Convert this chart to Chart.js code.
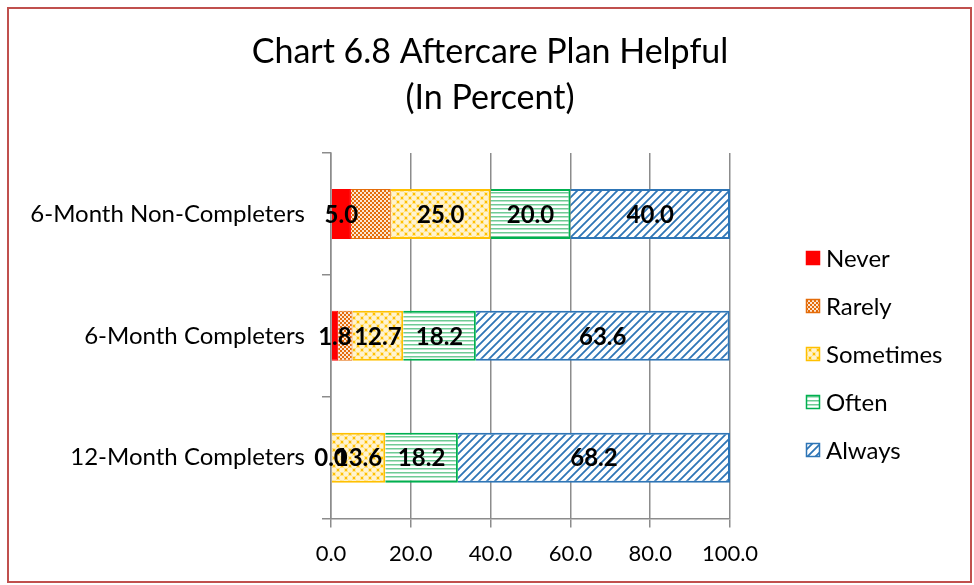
<!DOCTYPE html>
<html>
<head>
<meta charset="utf-8">
<script src="https://cdn.jsdelivr.net/npm/chart.js@4.4.1/dist/chart.umd.min.js"></script>
<style>
  html, body { margin: 0; padding: 0; background: #fff; }
  #wrap { position: relative; width: 974px; height: 585px; }
  #frame { position: absolute; left: 7px; top: 7px; width: 965px; height: 576px;
           border: 2px solid #C0504D; box-sizing: border-box; pointer-events: none; }
</style>
</head>
<body>
<div id="wrap">
  <canvas id="plot" width="974" height="585"></canvas>
  <div id="frame"></div>
</div>
<script>
// chart data
const titleLines = ["Chart 6.8 Aftercare Plan Helpful", "(In Percent)"];
const categories = ["6-Month Non-Completers", "6-Month Completers", "12-Month Completers"];
const seriesNames = ["Never", "Rarely", "Sometimes", "Often", "Always"];
const never = [5.0, 1.8, 0.0];
const rarely = [10.0, 3.6, 0.0];
const sometimes = [25.0, 12.7, 13.6];
const often = [20.0, 18.2, 18.2];
const always = [40.0, 63.6, 68.2];
const xTicks = [0, 20, 40, 60, 80, 100];

const FONT = "Lato, 'Open Sans', sans-serif";

function tile(w, h, draw) {
    const c = document.createElement("canvas");
    c.width = w; c.height = h;
    draw(c.getContext("2d"));
    return document.createElement("canvas").getContext("2d").createPattern(c, "repeat");
}

const rarelyFill = tile(4, 4, g => {
    g.fillStyle = "#E46C0A"; g.fillRect(0, 0, 4, 4);
    g.fillStyle = "#fbe6d4"; g.fillRect(0, 0, 2, 2); g.fillRect(2, 2, 2, 2);
});
const sometimesFill = tile(8, 8, g => {
    g.fillStyle = "#FFC000"; g.fillRect(0, 0, 8, 8);
    g.fillStyle = "#fff3d0";
    [[2, 2], [6, 6], [-2, 6], [6, -2], [10, 6], [6, 10], [2, 10], [10, 2], [-2, 2], [2, -2]].forEach(p => {
        g.beginPath(); g.arc(p[0], p[1], 2.8, 0, Math.PI * 2); g.fill();
    });
});
const oftenFill = tile(4, 4, g => {
    g.fillStyle = "#ffffff"; g.fillRect(0, 0, 4, 4);
    g.fillStyle = "#6fcb95"; g.fillRect(0, 0, 4, 1.5);
});
const alwaysFill = tile(8, 8, g => {
    g.fillStyle = "#ffffff"; g.fillRect(0, 0, 8, 8);
    g.strokeStyle = "#2E75B6"; g.lineWidth = 1.8;
    g.beginPath();
    g.moveTo(-1, 9); g.lineTo(9, -1);
    g.moveTo(-1, 1); g.lineTo(1, -1);
    g.moveTo(7, 9); g.lineTo(9, 7);
    g.stroke();
});

// title centred on the whole frame (the legend sits outside the layout)
const frameTitle = {
    id: "frameTitle",
    afterDraw(chart) {
        const ctx = chart.ctx;
        ctx.save();
        ctx.font = "34px " + FONT;
        ctx.fillStyle = "#000";
        ctx.textAlign = "center";
        ctx.textBaseline = "middle";
        titleLines.forEach((t, i) => ctx.fillText(t, 490, 52 + i * 46));
        ctx.restore();
    }
};

// value labels in the middle of each segment (Rarely has none in the original)
const dataLabels = {
    id: "dataLabels",
    afterDatasetsDraw(chart) {
        const ctx = chart.ctx;
        ctx.save();
        ctx.font = "bold 24px " + FONT;
        ctx.fillStyle = "#000";
        ctx.textAlign = "center";
        ctx.textBaseline = "middle";
        chart.data.datasets.forEach((ds, i) => {
            if (ds.label === "Rarely") return;
            chart.getDatasetMeta(i).data.forEach((bar, j) => {
                const cx = (bar.x + bar.base) / 2;
                ctx.fillText(ds.data[j].toFixed(1), cx, bar.y + 1);
            });
        });
        ctx.restore();
    }
};

// legend on the right, laid out like the spreadsheet one
const sideLegend = {
    id: "sideLegend",
    afterDraw(chart) {
        const ctx = chart.ctx;
        const area = chart.chartArea;
        const x = area.right + 76;
        const y0 = 258;
        ctx.save();
        ctx.font = "24px " + FONT;
        ctx.textBaseline = "middle";
        ctx.textAlign = "left";
        chart.data.datasets.forEach((ds, i) => {
            const y = y0 + i * 48;
            ctx.fillStyle = ds.backgroundColor;
            ctx.fillRect(x, y - 7, 14, 14);
            ctx.strokeStyle = ds.borderColor;
            ctx.lineWidth = 1.5;
            ctx.strokeRect(x + 0.5, y - 6.5, 13, 13);
            ctx.fillStyle = "#000";
            ctx.fillText(ds.label, x + 20, y + 1);
        });
        ctx.restore();
    }
};

new Chart(document.getElementById("plot"), {
    type: "bar",
    data: {
        labels: categories,
        datasets: [
            { label: seriesNames[0], data: never, backgroundColor: "#FF0000", borderColor: "#FF0000", borderWidth: 1 },
            { label: seriesNames[1], data: rarely, backgroundColor: rarelyFill, borderColor: "#E46C0A", borderWidth: 1 },
            { label: seriesNames[2], data: sometimes, backgroundColor: sometimesFill, borderColor: "#FFC000", borderWidth: 2 },
            { label: seriesNames[3], data: often, backgroundColor: oftenFill, borderColor: "#00B050", borderWidth: 2 },
            { label: seriesNames[4], data: always, backgroundColor: alwaysFill, borderColor: "#2E75B6", borderWidth: 2 }
        ]
    },
    options: {
        indexAxis: "y",
        responsive: false,
        animation: false,
        barPercentage: 0.41,
        categoryPercentage: 1.0,
        layout: { padding: { left: 0, right: 244, top: 153, bottom: 5 } },
        plugins: {
            title: { display: false },
            legend: { display: false },
            tooltip: { enabled: false }
        },
        scales: {
            x: {
                stacked: true,
                min: 0,
                max: 100,
                afterBuildTicks: axis => { axis.ticks = xTicks.map(v => ({ value: v })); },
                ticks: {
                    color: "#000",
                    font: { family: FONT, size: 22 },
                    padding: 13,
                    callback: v => Number(v).toFixed(1)
                },
                grid: { color: "#8c8c8c", lineWidth: 1.5, tickLength: 9 },
                border: { color: "#8c8c8c", width: 1.5 }
            },
            y: {
                stacked: true,
                afterFit: scale => { scale.width = 331; },
                ticks: {
                    color: "#000",
                    font: { family: FONT, size: 24 },
                    padding: 17
                },
                grid: { offset: true, drawOnChartArea: false, color: "#8c8c8c", lineWidth: 1.5, tickLength: 9 },
                border: { color: "#8c8c8c", width: 1.5 }
            }
        }
    },
    plugins: [frameTitle, dataLabels, sideLegend]
});
</script>
</body>
</html>
